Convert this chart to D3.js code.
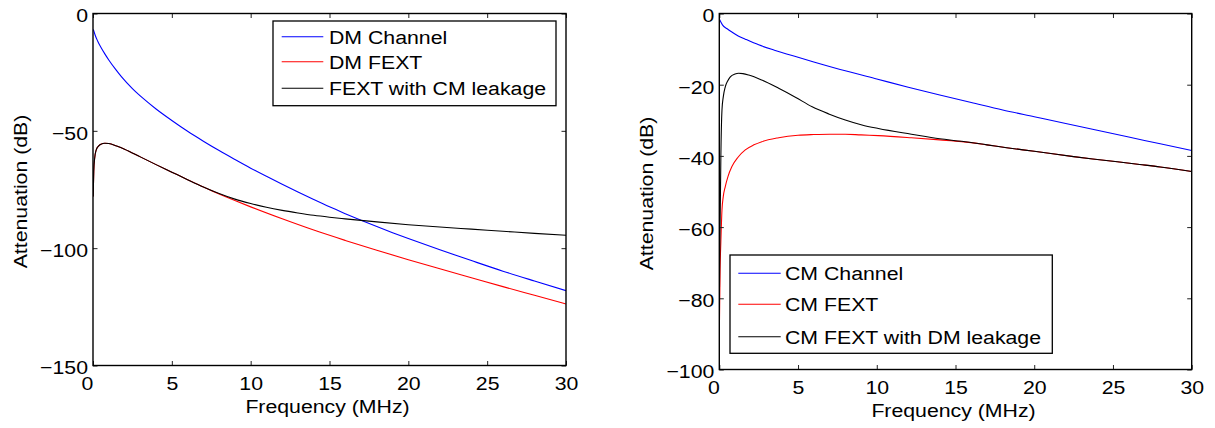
<!DOCTYPE html>
<html>
<head>
<meta charset="utf-8">
<script src="https://cdn.jsdelivr.net/npm/d3@7"></script>
<style>
  html, body { margin: 0; padding: 0; background: #fff; }
  svg { display: block; }
  text { font-family: "Liberation Sans", Arial, Helvetica, sans-serif; font-size: 19px; fill: #000; }
</style>
</head>
<body>
<svg id="chart" width="1215" height="428"></svg>
<script>
// ---------------- DATA ----------------
// Left panel (DM)
const dmChannelFreq = [0.02, 0.15, 0.3, 0.5, 0.75, 1.0, 1.4, 1.8, 2.5, 3.2, 4, 5, 6, 7, 8, 9, 10, 11, 12, 13, 14, 15, 16, 17, 18, 19, 20, 22, 24, 26, 28, 30];
const dmChannel     = [-6.8, -9.5, -11.8, -14.4, -17.2, -19.8, -23.5, -26.9, -32.0, -36.3, -40.7, -45.6, -50.2, -54.4, -58.4, -62.2, -65.9, -69.4, -72.8, -76.1, -79.3, -82.4, -85.3, -88.1, -90.8, -93.4, -95.9, -100.7, -105.3, -109.8, -114.0, -118.1];

const dmFextFreq = [0.01, 0.05, 0.1, 0.2, 0.35, 0.5, 0.75, 1.0, 1.5, 2, 3, 4, 5, 6, 7, 8, 9, 10, 12, 14, 16, 18, 20, 22, 24, 26, 28, 30];
const dmFext     = [-78, -67, -62, -58.2, -56.5, -55.7, -55.3, -55.4, -56.5, -57.8, -61.1, -64.4, -67.6, -70.8, -73.9, -76.9, -79.7, -82.4, -87.5, -92.3, -96.7, -100.9, -104.9, -108.8, -112.6, -116.4, -120.1, -123.8];

const dmLeakFreq = [0.01, 0.05, 0.1, 0.2, 0.35, 0.5, 0.75, 1.0, 1.5, 2, 3, 4, 5, 6, 7, 8, 9, 10, 11, 12, 13, 14, 15, 16, 18, 20, 22, 24, 26, 28, 30];
const dmLeak     = [-78, -67, -62, -58.2, -56.5, -55.7, -55.3, -55.4, -56.5, -57.8, -61.1, -64.4, -67.6, -70.8, -73.9, -76.7, -79.1, -81.0, -82.6, -83.9, -85.0, -86.0, -86.8, -87.5, -88.8, -90.0, -91.0, -91.9, -92.8, -93.7, -94.5];

// Right panel (CM)
const cmChannelFreq = [0.01, 0.2, 0.5, 0.8, 1.2, 1.65, 2.5, 3.5, 5, 6, 8, 10, 12, 14, 16, 18, 20, 22, 24, 26, 28, 30];
const cmChannel     = [-1.6, -3.2, -4.3, -5.2, -6.3, -7.2, -8.8, -10.3, -12.3, -13.6, -16.1, -18.4, -20.7, -22.9, -25.0, -27.1, -29.0, -30.9, -32.8, -34.7, -36.6, -38.5];

const cmFextFreq = [0.01, 0.05, 0.1, 0.17, 0.25, 0.38, 0.55, 0.8, 1.2, 1.65, 2.2, 2.7, 3.77, 5, 6, 7, 8, 9, 10.1, 12.2, 14, 15.4, 17, 18.25, 20, 22.5, 24, 26.7, 28, 30];
const cmFext     = [-87, -72, -64, -55.2, -51.5, -48.6, -45.8, -43.0, -40.3, -38.3, -36.9, -36.0, -34.9, -34.2, -34.0, -33.9, -33.9, -34.1, -34.3, -34.9, -35.5, -36.0, -36.9, -37.7, -38.7, -40.2, -41.0, -42.4, -43.1, -44.4];

const cmLeakFreq = [0.01, 0.05, 0.1, 0.17, 0.25, 0.38, 0.55, 0.7, 1.0, 1.23, 1.5, 1.87, 2.7, 3.77, 4.83, 5.9, 6.95, 8.0, 9.06, 10.1, 12.2, 14, 15.4, 17, 18.25, 20, 22.5, 24, 26.7, 28, 30];
const cmLeak     = [-78, -60, -40, -27.1, -23.5, -20.6, -18.8, -17.8, -17.0, -16.8, -16.9, -17.3, -18.7, -21.0, -23.5, -26.2, -28.2, -29.9, -31.3, -32.3, -33.9, -35.2, -35.9, -36.9, -37.7, -38.7, -40.2, -41.0, -42.4, -43.1, -44.4];

// Ticks and labels
const xTicks = [0, 5, 10, 15, 20, 25, 30];
const leftYTicks = [0, -50, -100, -150];
const rightYTicks = [0, -20, -40, -60, -80, -100];
const leftLegend = ["DM Channel", "DM FEXT", "FEXT with CM leakage"];
const rightLegend = ["CM Channel", "CM FEXT", "CM FEXT with DM leakage"];
const xLabel = "Frequency (MHz)";
const yLabel = "Attenuation (dB)";
const colors = ["#0000ff", "#ff0000", "#000000"];

// ---------------- DRAW ----------------
const svg = d3.select("#chart");
const SX = 1.12; // horizontal stretch of the reference's text

function stretch(sel) {
  sel.each(function () {
    const t = d3.select(this);
    const x = +t.attr("x") || 0;
    const y = +t.attr("y") || 0;
    t.attr("transform", `translate(${x},${y}) scale(${SX},1)`).attr("x", 0).attr("y", 0);
  });
}

function panel(cfg) {
  const { x0, x1, y0, y1, yDomain, yTicks, series, legend, id } = cfg;
  const x = d3.scaleLinear().domain([0, 30]).range([x0, x1]);
  const y = d3.scaleLinear().domain(yDomain).range([y1, y0]);
  const g = svg.append("g");

  g.append("clipPath").attr("id", id).append("rect")
    .attr("x", x0).attr("y", y0).attr("width", x1 - x0).attr("height", y1 - y0);

  const line = d3.line().x(d => x(d[0])).y(d => y(d[1])).curve(d3.curveMonotoneX);
  const lines = g.append("g").attr("clip-path", `url(#${id})`);
  series.forEach((s, i) => {
    lines.append("path")
      .datum(s.f.map((f, k) => [f, s.v[k]]))
      .attr("fill", "none").attr("stroke", colors[i]).attr("stroke-width", 1.1)
      .attr("d", line);
  });

  // axes
  const xb = g.append("g").attr("transform", `translate(0,${y1})`)
    .call(d3.axisBottom(x).tickValues(xTicks).tickSizeInner(-4.5).tickSizeOuter(0).tickPadding(11).tickFormat(d3.format("d")));
  const xt = g.append("g").attr("transform", `translate(0,${y0})`)
    .call(d3.axisTop(x).tickValues(xTicks).tickSizeInner(-4.5).tickSizeOuter(0).tickFormat(""));
  const yl = g.append("g").attr("transform", `translate(${x0},0)`)
    .call(d3.axisLeft(y).tickValues(yTicks).tickSizeInner(-4.5).tickSizeOuter(0).tickPadding(5).tickFormat(d3.format("d")));
  const yr = g.append("g").attr("transform", `translate(${x1},0)`)
    .call(d3.axisRight(y).tickValues(yTicks).tickSizeInner(-4.5).tickSizeOuter(0).tickFormat(""));
  [xb, xt, yl, yr].forEach(a => {
    a.select(".domain").remove();
    a.selectAll("line").attr("stroke", "#222").attr("stroke-width", 1);
    a.selectAll("text").attr("font-size", null).attr("font-family", null).attr("fill", "#000");
  });
  yl.selectAll("text").attr("dy", "0.44em");
  xb.selectAll("text").filter(d => d === 0).attr("x", -6);
  stretch(xb.selectAll("text"));
  stretch(yl.selectAll("text"));

  // frame
  g.append("rect").attr("x", x0).attr("y", y0).attr("width", x1 - x0).attr("height", y1 - y0)
    .attr("fill", "none").attr("stroke", "#000").attr("stroke-width", 1.4);

  // axis labels
  stretch(g.append("text").attr("x", (x0 + x1) / 2 - 2).attr("y", y1 + 47.5)
    .attr("text-anchor", "middle").text(xLabel));
  g.append("text")
    .attr("transform", `translate(${x0 - 66},${(y0 + y1) / 2 + 2}) rotate(-90) scale(${SX},1)`)
    .attr("text-anchor", "middle").text(yLabel);

  // legend
  const L = legend;
  g.append("rect").attr("x", L.x0).attr("y", L.y0).attr("width", L.x1 - L.x0).attr("height", L.y1 - L.y0)
    .attr("fill", "#fff").attr("stroke", "#000").attr("stroke-width", 1.3);
  L.labels.forEach((lab, i) => {
    const ry = L.rows[i];
    g.append("line").attr("x1", L.s0).attr("x2", L.s1).attr("y1", ry).attr("y2", ry)
      .attr("stroke", colors[i]).attr("stroke-width", 1.1);
    stretch(g.append("text").attr("x", L.tx).attr("y", ry + 6.8).text(lab));
  });
}

panel({
  id: "clipL", x0: 93, x1: 566, y0: 13.5, y1: 365.5,
  yDomain: [-150, 0], yTicks: leftYTicks,
  series: [
    { f: dmChannelFreq, v: dmChannel },
    { f: dmFextFreq, v: dmFext },
    { f: dmLeakFreq, v: dmLeak }
  ],
  legend: { x0: 273, x1: 556, y0: 21, y1: 105.7, s0: 281.7, s1: 323.3, tx: 329, rows: [36.7, 61.7, 88.3], labels: leftLegend }
});

panel({
  id: "clipR", x0: 719.3, x1: 1191.7, y0: 13.5, y1: 369.5,
  yDomain: [-100, 0], yTicks: rightYTicks,
  series: [
    { f: cmChannelFreq, v: cmChannel },
    { f: cmFextFreq, v: cmFext },
    { f: cmLeakFreq, v: cmLeak }
  ],
  legend: { x0: 730, x1: 1052.3, y0: 255, y1: 353.3, s0: 738.3, s1: 780.7, tx: 785, rows: [273.3, 304.3, 336.7], labels: rightLegend }
});
</script>
</body>
</html>
